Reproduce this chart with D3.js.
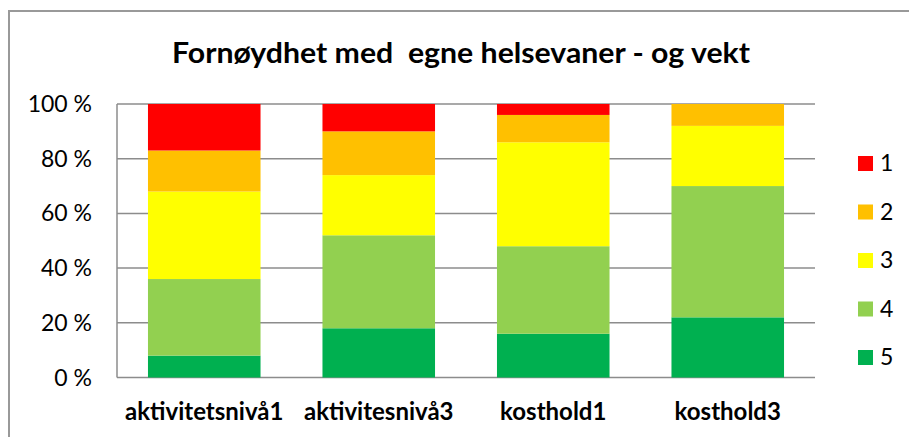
<!DOCTYPE html>
<html>
<head>
<meta charset="utf-8">
<script src="https://cdn.jsdelivr.net/npm/d3@7"></script>
<style>
  html, body { margin: 0; padding: 0; background: #fff; }
  svg { display: block; font-family: Lato, 'Open Sans', sans-serif; }
</style>
</head>
<body>
<div id="chart"></div>
<script>
(function () {
  'use strict';

  // Data (percent per answer level, bottom = 5)
  const categories = ['aktivitetsnivå1', 'aktivitesnivå3', 'kosthold1', 'kosthold3'];
  const levels = ['5', '4', '3', '2', '1'];
  const level5 = [8, 18, 16, 22];
  const level4 = [28, 34, 32, 48];
  const level3 = [32, 22, 38, 22];
  const level2 = [15, 16, 10, 8];
  const level1 = [17, 10, 4, 0];
  const yTicks = [0, 20, 40, 60, 80, 100];
  const colors = { '1': '#FF0000', '2': '#FFC000', '3': '#FFFF00', '4': '#92D050', '5': '#00B050' };

  const series = { '5': level5, '4': level4, '3': level3, '2': level2, '1': level1 };
  const rows = categories.map((c, i) => {
    const r = { cat: c };
    levels.forEach(l => { r[l] = series[l][i]; });
    return r;
  });

  const W = 909, H = 437;
  const plot = { left: 117, right: 815, top: 104, bottom: 377.5 };

  const svg = d3.select('#chart').append('svg').attr('width', W).attr('height', H);

  // outer chart frame (runs off right / bottom edges)
  svg.append('rect').attr('x', 9).attr('y', 11).attr('width', 940).attr('height', 460)
    .attr('fill', '#fff').attr('stroke', '#999').attr('stroke-width', 2);

  // title, squeezed a bit to the reference's (Calibri) width
  svg.append('text').attr('x', 461).attr('y', 63).attr('text-anchor', 'middle')
    .style('font-size', '28px').style('font-weight', 'bold').attr('fill', '#000')
    .attr('xml:space', 'preserve')
    .attr('textLength', 578).attr('lengthAdjust', 'spacingAndGlyphs')
    .text('Fornøydhet med  egne helsevaner - og vekt');

  const x = d3.scaleBand().domain(categories).range([plot.left, plot.right]).paddingInner(0.355).paddingOuter(0.1775);
  const y = d3.scaleLinear().domain([0, 100]).range([plot.bottom, plot.top]);

  // gridlines
  svg.append('g').selectAll('line').data(yTicks).join('line')
    .attr('x1', plot.left).attr('x2', plot.right)
    .attr('y1', d => y(d)).attr('y2', d => y(d))
    .attr('stroke', '#8c8c8c').attr('stroke-width', 1.5);

  const stack = d3.stack().keys(levels)(rows);
  svg.append('g').selectAll('g').data(stack).join('g')
    .attr('fill', d => colors[d.key])
    .selectAll('rect').data(d => d).join('rect')
    .attr('x', d => x(d.data.cat))
    .attr('width', x.bandwidth())
    .attr('y', d => y(d[1]))
    .attr('height', d => y(d[0]) - y(d[1]));

  // y axis line
  svg.append('line').attr('x1', plot.left).attr('x2', plot.left)
    .attr('y1', plot.top).attr('y2', plot.bottom)
    .attr('stroke', '#8c8c8c').attr('stroke-width', 1.5);

  // y tick labels
  svg.append('g').selectAll('text').data(yTicks).join('text')
    .attr('x', 92).attr('y', d => y(d)).attr('dy', '0.35em')
    .attr('text-anchor', 'end').style('font-size', '23px').attr('fill', '#000')
    .text(d => d + ' %');

  // category labels
  svg.append('g').selectAll('text').data(categories).join('text')
    .attr('x', d => x(d) + x.bandwidth() / 2).attr('y', 420)
    .attr('text-anchor', 'middle').style('font-size', '24px').style('font-weight', 'bold')
    .attr('fill', '#000').text(d => d);

  // legend (1 at top)
  const legendKeys = levels.slice().reverse();
  const lg = svg.append('g').selectAll('g').data(legendKeys).join('g')
    .attr('transform', (d, i) => `translate(858, ${163 + i * 48.5})`);
  lg.append('rect').attr('x', 0).attr('y', -7).attr('width', 15).attr('height', 15)
    .attr('fill', d => colors[d]);
  lg.append('text').attr('x', 22).attr('y', 0).attr('dy', '0.36em')
    .style('font-size', '23px').attr('fill', '#000').text(d => d);
})();
</script>
</body>
</html>
